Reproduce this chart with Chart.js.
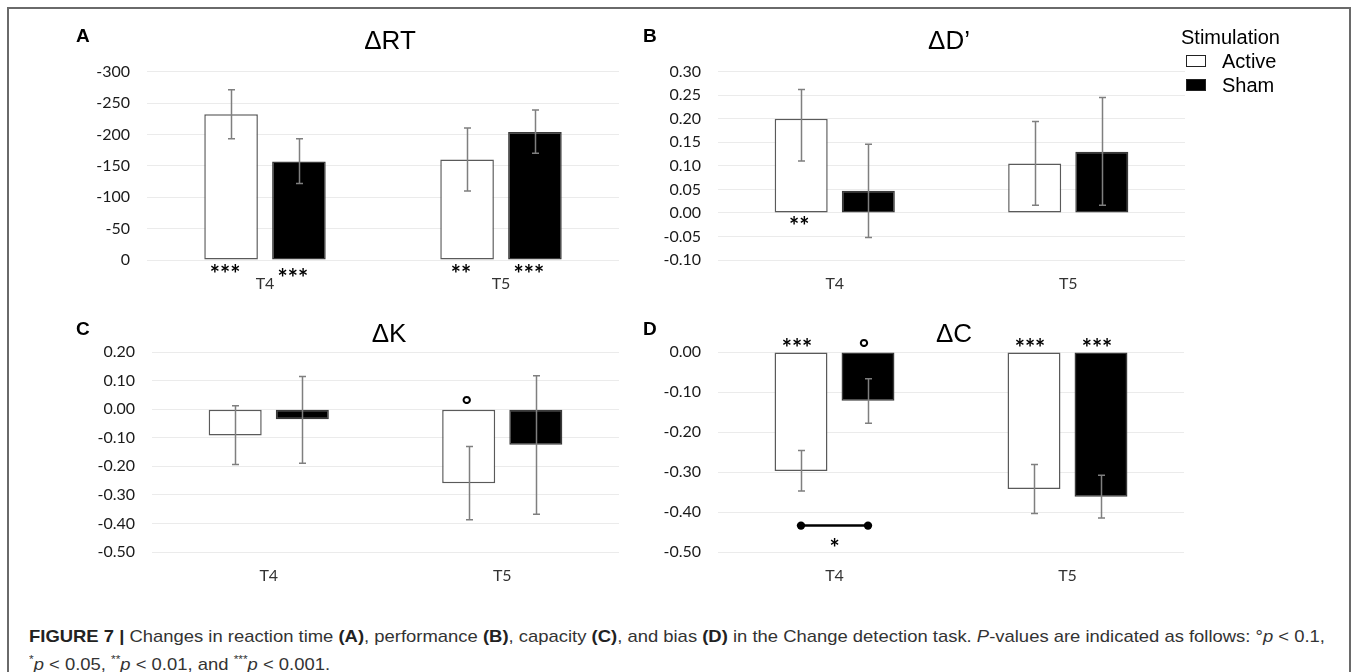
<!DOCTYPE html>
<html>
<head>
<meta charset="utf-8">
<script src="https://cdn.jsdelivr.net/npm/chart.js@4.4.1/dist/chart.umd.min.js"></script>
<style>
  html, body { margin:0; padding:0; background:#fff; }
  body { width:1358px; height:672px; position:relative; overflow:hidden; font-family:"Liberation Sans", Arial, sans-serif; }
  .frame { position:absolute; left:7px; top:7px; width:1344px; height:720px; border:2px solid #6a6a6a; box-sizing:border-box; }
  .cv { position:absolute; }
  .letter { position:absolute; font-weight:bold; font-size:19px; color:#000; line-height:1; }
  .title { position:absolute; font-size:26px; color:#000; line-height:1; transform:translate(-50%,-50%); white-space:nowrap; }
  .legend { position:absolute; left:1181px; top:25px; font-size:20px; color:#000; line-height:24px; }
  .legend .row { position:relative; padding-left:41px; }
  .legend .box { position:absolute; left:5px; top:6px; width:20px; height:12px; box-sizing:border-box; border:1.5px solid #222; }
  .caption { position:absolute; left:29px; top:626px; font-size:17px; line-height:22px; color:#333; white-space:nowrap; transform-origin:0 0; }
  .caption b { color:#222; }
</style>
</head>
<body>
<div class="frame"></div>

<canvas id="cA" class="cv"></canvas>
<canvas id="cB" class="cv"></canvas>
<canvas id="cC" class="cv"></canvas>
<canvas id="cD" class="cv"></canvas>

<div class="letter" style="left:76px;top:26px;">A</div>
<div class="letter" style="left:643px;top:26px;">B</div>
<div class="letter" style="left:76px;top:319px;">C</div>
<div class="letter" style="left:643px;top:319px;">D</div>

<div class="title" style="left:390px;top:40px;">ΔRT</div>
<div class="title" style="left:949px;top:40px;">ΔD’</div>
<div class="title" style="left:389px;top:333px;">ΔK</div>
<div class="title" style="left:954px;top:333px;">ΔC</div>

<div class="legend">
  <div>Stimulation</div>
  <div class="row"><span class="box" style="background:#fff;"></span>Active</div>
  <div class="row"><span class="box" style="background:#000;"></span>Sham</div>
</div>

<div class="caption" id="cap"><span id="capLine1"><b>FIGURE 7 |</b> Changes in reaction time <b>(A)</b>, performance <b>(B)</b>, capacity <b>(C)</b>, and bias <b>(D)</b> in the Change detection task. <i>P</i>-values are indicated as follows: °<i>p</i> &lt; 0.1,</span><br><sup style="font-size:11px;">*</sup><i>p</i> &lt; 0.05, <sup style="font-size:11px;">**</sup><i>p</i> &lt; 0.01, and <sup style="font-size:11px;">***</sup><i>p</i> &lt; 0.001.</div>

<script>
// ---------------- DATA ----------------
const categories = ['T4', 'T5'];
const seriesNames = ['Active', 'Sham'];

// Panel A: ΔRT
const rtActive   = [-232, -160];
const rtActiveHi = [-271, -210];
const rtActiveLo = [-193, -110];
const rtSham     = [-157, -204];
const rtShamHi   = [-193, -239];
const rtShamLo   = [-122, -170];
const rtActiveStars = ['***', '**'];
const rtShamStars   = ['***', '***'];
const rtTicks = [-300, -250, -200, -150, -100, -50, 0];

// Panel B: ΔD'
const dpActive   = [0.200, 0.105];
const dpActiveHi = [0.262, 0.194];
const dpActiveLo = [0.110, 0.016];
const dpSham     = [0.047, 0.130];
const dpShamHi   = [0.146, 0.245];
const dpShamLo   = [-0.052, 0.016];
const dpActiveStars = ['**', ''];
const dpShamStars   = ['', ''];
const dpTicks = [-0.10, -0.05, 0.00, 0.05, 0.10, 0.15, 0.20, 0.25, 0.30];

// Panel C: ΔK
const kActive   = [-0.092, -0.259];
const kActiveHi = [0.012, -0.131];
const kActiveLo = [-0.194, -0.387];
const kSham     = [-0.035, -0.125];
const kShamHi   = [0.114, 0.117];
const kShamLo   = [-0.189, -0.368];
const kActiveStars = ['', '°'];
const kShamStars   = ['', ''];
const kTicks = [-0.50, -0.40, -0.30, -0.20, -0.10, 0.00, 0.10, 0.20];

// Panel D: ΔC
const cActive   = [-0.2975, -0.3425];
const cActiveHi = [-0.246, -0.281];
const cActiveLo = [-0.3475, -0.404];
const cSham     = [-0.122, -0.362];
const cShamHi   = [-0.067, -0.308];
const cShamLo   = [-0.178, -0.415];
const cActiveStars = ['***', '***'];
const cShamStars   = ['°', '***'];
const cTicks = [-0.50, -0.40, -0.30, -0.20, -0.10, 0.00];
// significance comparison (Active vs Sham at T4) in panel D
const cCompareCategory = 'T4';
const cCompareLevel = -0.434;
const cCompareStars = '*';

// ---------------- PLUGINS ----------------
const errorBars = {
  id: 'errorBars',
  afterDatasetsDraw(chart, args, o) {
    const ctx = chart.ctx, ys = chart.scales.y;
    ctx.save();
    ctx.strokeStyle = o.color; ctx.lineWidth = o.width;
    chart.data.datasets.forEach((ds, i) => {
      chart.getDatasetMeta(i).data.forEach((bar, j) => {
        const x = Math.round(bar.x) + 0.5;
        const y1 = ys.getPixelForValue(ds.errHi[j]);
        const y2 = ys.getPixelForValue(ds.errLo[j]);
        ctx.beginPath();
        ctx.moveTo(x, y1); ctx.lineTo(x, y2);
        ctx.moveTo(x - o.cap, y1); ctx.lineTo(x + o.cap, y1);
        ctx.moveTo(x - o.cap, y2); ctx.lineTo(x + o.cap, y2);
        ctx.stroke();
      });
    });
    ctx.restore();
  }
};

const starMarks = {
  id: 'starMarks',
  afterDatasetsDraw(chart, args, o) {
    const ctx = chart.ctx, ys = chart.scales.y;
    const y0 = ys.getPixelForValue(0);
    ctx.save();
    ctx.fillStyle = '#000';
    ctx.textAlign = 'center';
    ctx.textBaseline = 'alphabetic';
    chart.data.datasets.forEach((ds, i) => {
      chart.getDatasetMeta(i).data.forEach((bar, j) => {
        const t = ds.stars[j];
        if (!t) return;
        const isDeg = t === '°';
        const size = isDeg ? o.degSize : o.size;
        ctx.font = 'bold ' + size + 'px ' + o.family;
        const extra = (o.extraDy && o.extraDy[i] && o.extraDy[i][j]) || 0;
        const cy = y0 + o.dy + extra;
        ctx.fillText(t, bar.x + o.dx, cy + size * (isDeg ? 0.6 : 0.57));
      });
    });
    ctx.restore();
  }
};

const compareBracket = {
  id: 'compareBracket',
  afterDatasetsDraw(chart, args, o) {
    if (!o.enabled) return;
    const ctx = chart.ctx, ys = chart.scales.y;
    const j = chart.data.labels.indexOf(o.category);
    const xa = chart.getDatasetMeta(0).data[j].x;
    const xb = chart.getDatasetMeta(1).data[j].x;
    const y = ys.getPixelForValue(o.level);
    ctx.save();
    ctx.strokeStyle = '#000'; ctx.fillStyle = '#000'; ctx.lineWidth = 2.5;
    ctx.beginPath(); ctx.moveTo(xa, y); ctx.lineTo(xb, y); ctx.stroke();
    [xa, xb].forEach(x => { ctx.beginPath(); ctx.arc(x, y, 4.2, 0, Math.PI * 2); ctx.fill(); });
    ctx.font = 'bold 24px Lato';
    ctx.textAlign = 'center';
    ctx.fillText(o.text, (xa + xb) / 2, y + 18 + 24 * 0.57);
    ctx.restore();
  }
};

// ---------------- CHART FACTORY ----------------
function makeChart(id, box, area, cfg) {
  const cv = document.getElementById(id);
  cv.style.left = box.l + 'px'; cv.style.top = box.t + 'px';
  cv.style.width = (box.r - box.l) + 'px'; cv.style.height = (box.b - box.t) + 'px';
  cv.width = box.r - box.l; cv.height = box.b - box.t;
  const yW = area.l - box.l, xH = box.b - area.b;
  return new Chart(cv, {
    type: 'bar',
    data: {
      labels: categories,
      datasets: [
        { label: seriesNames[0], data: cfg.active, errHi: cfg.activeHi, errLo: cfg.activeLo, stars: cfg.activeStars,
          backgroundColor: '#ffffff', borderColor: '#5a5a5a', borderWidth: 1.5, borderSkipped: false },
        { label: seriesNames[1], data: cfg.sham, errHi: cfg.shamHi, errLo: cfg.shamLo, stars: cfg.shamStars,
          backgroundColor: '#000000', borderColor: '#3a3a3a', borderWidth: 1.5, borderSkipped: false }
      ]
    },
    options: {
      responsive: false,
      animation: false,
      devicePixelRatio: 1,
      categoryPercentage: 0.575,
      barPercentage: 0.79,
      layout: { padding: { top: area.t - box.t, right: box.r - area.r, left: 0, bottom: 0 } },
      plugins: {
        legend: { display: false },
        title: { display: false },
        tooltip: { enabled: false },
        errorBars: { color: '#7f7f7f', width: 1.5, cap: 3.5 },
        starMarks: Object.assign({ size: 24, degSize: 24, family: 'Lato', dx: -4 }, cfg.starOpts),
        compareBracket: cfg.bracket || { enabled: false }
      },
      scales: {
        x: {
          grid: { display: false, drawTicks: false },
          border: { display: false },
          ticks: { color: '#333', font: { family: 'Lato', size: 16 }, padding: 14 },
          afterFit(s) { s.height = xH; }
        },
        y: {
          min: cfg.ticks[0], max: cfg.ticks[cfg.ticks.length - 1],
          reverse: !!cfg.reverse,
          grid: { color: '#ebebeb', lineWidth: 1, drawTicks: false },
          border: { display: false },
          afterBuildTicks(s) { s.ticks = cfg.ticks.map(v => ({ value: v })); },
          ticks: {
            color: '#1a1a1a', font: { family: 'Lato', size: 16 }, padding: 17,
            callback: cfg.fmt
          },
          afterFit(s) { s.width = yW; }
        }
      }
    },
    plugins: [errorBars, starMarks, compareBracket]
  });
}

const fmtInt = v => String(Math.round(v));
const fmt2 = v => (Math.abs(v) < 1e-9 ? 0 : v).toFixed(2);

makeChart('cA', { l: 60, t: 45, r: 640, b: 300 }, { l: 147, t: 61, r: 619, b: 260 }, {
  active: rtActive, activeHi: rtActiveHi, activeLo: rtActiveLo, activeStars: rtActiveStars,
  sham: rtSham, shamHi: rtShamHi, shamLo: rtShamLo, shamStars: rtShamStars,
  ticks: rtTicks, reverse: true, fmt: fmtInt,
  starOpts: { dy: 9, dx: -6, extraDy: [[0, 0], [4, 0]] }
});

makeChart('cB', { l: 640, t: 45, r: 1200, b: 300 }, { l: 718, t: 61, r: 1185, b: 260 }, {
  active: dpActive, activeHi: dpActiveHi, activeLo: dpActiveLo, activeStars: dpActiveStars,
  sham: dpSham, shamHi: dpShamHi, shamLo: dpShamLo, shamStars: dpShamStars,
  ticks: dpTicks, fmt: fmt2,
  starOpts: { dy: 8, dx: -2 }
});

makeChart('cC', { l: 60, t: 315, r: 640, b: 600 }, { l: 152, t: 352, r: 619, b: 552 }, {
  active: kActive, activeHi: kActiveHi, activeLo: kActiveLo, activeStars: kActiveStars,
  sham: kSham, shamHi: kShamHi, shamLo: kShamLo, shamStars: kShamStars,
  ticks: kTicks, fmt: fmt2,
  starOpts: { dy: -10, dx: -2 }
});

makeChart('cD', { l: 640, t: 315, r: 1200, b: 600 }, { l: 718, t: 352, r: 1184, b: 552 }, {
  active: cActive, activeHi: cActiveHi, activeLo: cActiveLo, activeStars: cActiveStars,
  sham: cSham, shamHi: cShamHi, shamLo: cShamLo, shamStars: cShamStars,
  ticks: cTicks, fmt: fmt2,
  starOpts: { dy: -9, dx: -4 },
  bracket: { enabled: true, category: cCompareCategory, level: cCompareLevel, text: cCompareStars }
});

// fit caption first line to the frame width
(function () {
  const cap = document.getElementById('cap');
  const w = document.getElementById('capLine1').getBoundingClientRect().width;
  const target = 1296;
  cap.style.transform = 'scaleX(' + (target / w).toFixed(4) + ')';
})();
</script>
</body>
</html>
